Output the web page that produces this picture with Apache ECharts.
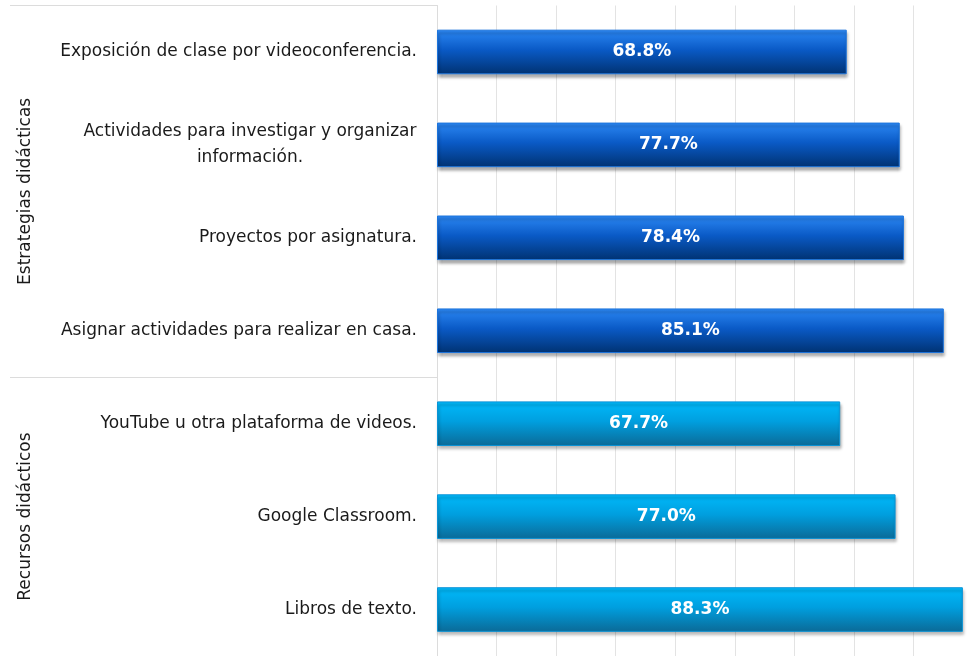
<!DOCTYPE html>
<html>
<head>
<meta charset="utf-8">
<script src="https://cdn.jsdelivr.net/npm/echarts@6/dist/echarts.min.js"></script>
<style>
html,body{margin:0;padding:0;background:#fff}
#main{width:973px;height:656px}
</style>
</head>
<body>
<div id="main"></div>
<script>
// datos
var categories = [
	'Exposición de clase por videoconferencia.',
	'Actividades para investigar y organizar información.',
	'Proyectos por asignatura.',
	'Asignar actividades para realizar en casa.',
	'YouTube u otra plataforma de videos.',
	'Google Classroom.',
	'Libros de texto.'
];
var values = [68.8, 77.7, 78.4, 85.1, 67.7, 77.0, 88.3];
var groups = ['Estrategias didácticas', 'Recursos didácticos'];
var groupSizes = [4, 3];

var FONT = '"DejaVu Sans", sans-serif';
var LABEL_SIZE = 17;

// colores por grupo
var groupStyle = [
	{top: '#2c88f4', mid: '#0a5ac6', bottom: '#003272', border: '#1c74dc'},
	{top: '#00bafb', mid: '#009fdf', bottom: '#0b6a97', border: '#0a93d6'}
];

var measureCtx = document.createElement('canvas').getContext('2d');
measureCtx.font = LABEL_SIZE + 'px ' + FONT;

function wrapLabel(text){
	var words = text.split(' ');
	var lines = [], cur = '';
	for(var i=0;i<words.length;i++){
		var t = cur ? cur + ' ' + words[i] : words[i];
		if(t.length > 42 && cur){
			lines.push(cur);
			cur = words[i];
		}
		else cur = t;
	}
	lines.push(cur);
	return lines;
}

// grupo de cada categoria + posiciones del eje de grupos
var groupOf = [];
var groupBounds = [0];
var groupCenters = [];
var acc = 0;
for(var g=0;g<groupSizes.length;g++){
	for(var k=0;k<groupSizes[g];k++) groupOf.push(g);
	groupCenters.push(acc + groupSizes[g]/2);
	acc += groupSizes[g];
	groupBounds.push(acc);
}

var barData = values.map(function(v, i){
	var s = groupStyle[groupOf[i]];
	return {
		value: v,
		itemStyle: {
			color: {
				type: 'linear', x: 0, y: 0, x2: 0, y2: 1,
				colorStops: [
					{offset: 0, color: s.top},
					{offset: 0.45, color: s.mid},
					{offset: 1, color: s.bottom}
				]
			},
			borderColor: s.border
		}
	};
});

var myChart = echarts.init(document.getElementById('main'));
var option = {
	backgroundColor: '#fff',
	animation: false,
	grid: {left: 437, right: -1, top: 5.5, bottom: -1, containLabel: false},
	xAxis: {
		type: 'value',
		min: 0,
		max: 90,
		interval: 10,
		axisLabel: {show: false},
		axisLine: {show: false},
		axisTick: {show: false},
		splitLine: {show: true, lineStyle: {color: '#e3e3e3', width: 1}}
	},
	yAxis: [
		{
			type: 'category',
			inverse: true,
			data: categories,
			axisLine: {show: true, lineStyle: {color: '#dcdcdc'}},
			axisTick: {show: false},
			axisLabel: {
				margin: 20,
				color: '#1a1a1a',
				fontFamily: FONT,
				fontSize: LABEL_SIZE,
				lineHeight: 26,
				formatter: function(val){
					var lines = wrapLabel(val);
					if(lines.length == 1) return val;
					return lines.map(function(l){ return '{c|' + l + '}'; }).join('\n');
				},
				rich: {
					c: {
						width: 0,
						align: 'center',
						fontFamily: FONT,
						fontSize: LABEL_SIZE,
						color: '#1a1a1a',
						lineHeight: 26
					}
				}
			}
		},
		{
			type: 'value',
			min: 0,
			max: categories.length,
			inverse: true,
			position: 'left',
			offset: 427,
			axisLine: {show: false},
			splitLine: {show: false},
			axisTick: {
				show: true,
				inside: true,
				length: 427,
				customValues: groupBounds,
				lineStyle: {color: '#dcdcdc', width: 1}
			},
			axisLabel: {
				show: true,
				inside: true,
				rotate: 90,
				margin: 7,
				customValues: groupCenters,
				color: '#1a1a1a',
				fontFamily: FONT,
				fontSize: LABEL_SIZE,
				formatter: function(v){
					for(var i=0;i<groupCenters.length;i++){
						if(Math.abs(groupCenters[i]-v) < 1e-6) return groups[i];
					}
					return '';
				}
			}
		}
	],
	series: [{
		type: 'bar',
		yAxisIndex: 0,
		data: barData,
		barWidth: '48%',
		itemStyle: {
			borderWidth: 1,
			shadowColor: 'rgba(0,0,0,0.35)',
			shadowBlur: 3,
			shadowOffsetX: 1,
			shadowOffsetY: 3
		},
		label: {
			show: true,
			position: 'inside',
			color: '#fff',
			fontFamily: FONT,
			fontSize: 17,
			fontWeight: 'bold',
			formatter: function(p){ return p.value.toFixed(1) + '%'; }
		}
	}]
};

// ancho del bloque de texto de varias lineas, para centrar cada linea
var maxW = 0;
categories.forEach(function(c){
	var lines = wrapLabel(c);
	if(lines.length > 1){
		lines.forEach(function(l){ maxW = Math.max(maxW, measureCtx.measureText(l).width); });
	}
});
option.yAxis[0].axisLabel.rich.c.width = Math.ceil(maxW);

myChart.setOption(option);
</script>
</body>
</html>
